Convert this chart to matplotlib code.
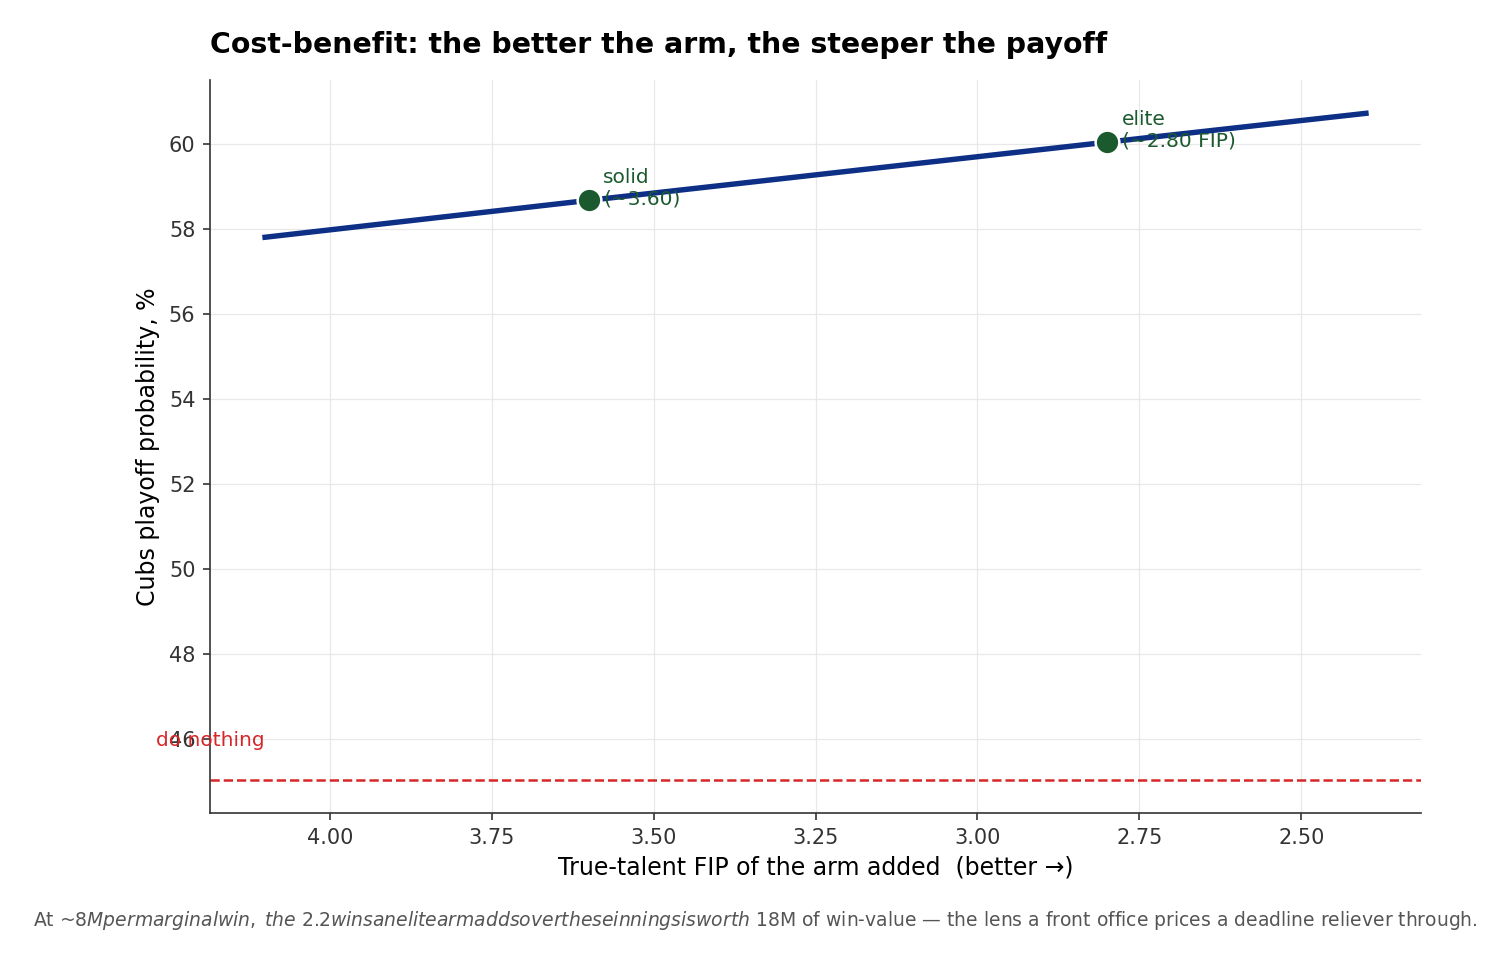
import matplotlib
matplotlib.use("Agg")
import matplotlib.pyplot as plt

# FIP of the added arm vs. Cubs playoff odds (%)
fip = [4.10, 3.60, 2.80, 2.40]
playoff_pct = [57.81, 58.68, 60.05, 60.73]

# highlighted arms
mark_fip = [3.60, 2.80]
mark_pct = [58.68, 60.05]
mark_labels = ["solid\n(~3.60)", "elite\n(~2.80 FIP)"]

do_nothing_pct = 45.03

NAVY = "#0e2f86"
GREEN = "#1b5a2e"
RED = "#d62728"

fig = plt.figure(figsize=(1510 / 150, 964 / 150), dpi=150)
ax = fig.add_axes([210 / 1510, 1 - 813 / 964, (1421 - 210) / 1510, (813 - 80) / 964])

ax.plot(fip, playoff_pct, color=NAVY, lw=2.6, zorder=2)
ax.scatter(mark_fip, mark_pct, s=130, color=GREEN, edgecolors="white",
           linewidths=1.2, zorder=3)
for x, y, lab in zip(mark_fip, mark_pct, mark_labels):
    ax.annotate(lab, (x, y), textcoords="offset points", xytext=(7, -4),
                ha="left", va="bottom", fontsize=9.7, color=GREEN, zorder=4)

ax.axhline(do_nothing_pct, color=RED, ls="--", lw=1.2, zorder=1)
ax.text(fip[0], do_nothing_pct + 0.7, "do nothing", color=RED, fontsize=9.7,
        ha="right", va="bottom")

ax.invert_xaxis()
ax.set_xticks([4.00, 3.75, 3.50, 3.25, 3.00, 2.75, 2.50])
ax.xaxis.set_major_formatter(matplotlib.ticker.FormatStrFormatter("%.2f"))
ax.set_yticks([46, 48, 50, 52, 54, 56, 58, 60])

ax.grid(True, color="#e8e8e8", lw=0.6, zorder=0)
ax.set_axisbelow(True)
for side in ("top", "right"):
    ax.spines[side].set_visible(False)
for side in ("left", "bottom"):
    ax.spines[side].set_color("#333333")
ax.tick_params(colors="#333333", labelsize=10)

ax.set_xlabel("True-talent FIP of the arm added  (better \u2192)", fontsize=11.35)
ax.set_ylabel("Cubs playoff probability, %", fontsize=11.35)
ax.set_title("Cost-benefit: the better the arm, the steeper the payoff",
             loc="left", fontsize=13.65, fontweight="bold", pad=13)

fig.text(0.5, 0.045,
         "At ~$8M per marginal win,\\; the\\ 2.2 wins an elite arm adds over these "
         "innings is worth ~$18M of win-value \u2014 the lens a front office "
         "prices a deadline reliever through.",
         ha="center", va="center", fontsize=9, color="#555555")

fig.savefig("out.png", dpi=150)
